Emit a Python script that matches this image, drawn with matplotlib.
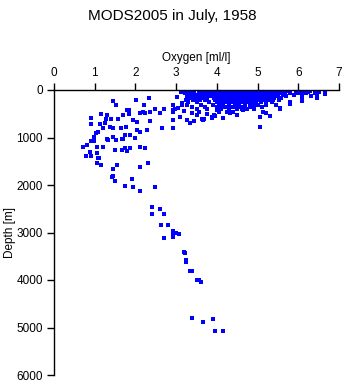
import matplotlib
matplotlib.use("Agg")
import matplotlib.pyplot as plt

plt.rcParams["font.family"] = ["Liberation Sans", "DejaVu Sans"]

# Surface layer: dense casts, one list of oxygen values [ml/l] per depth band [m]
band_depths = [15, 55, 95, 135, 175, 215, 260, 310, 360, 410]
band_oxygen = [
    [3.18, 3.28, 3.36, 3.55, 3.70, 3.80, 3.90, 4.00, 4.08, 4.16, 4.24, 4.32, 4.40, 4.48,
     4.56, 4.64, 4.72, 4.80, 4.88, 4.96, 5.04, 5.12, 5.20, 5.28, 5.36, 5.48, 5.60, 5.75,
     5.95, 6.10, 6.28, 6.50],
    [3.22, 3.32, 3.45, 3.60, 3.72, 3.84, 3.94, 4.02, 4.10, 4.18, 4.26, 4.34, 4.42, 4.50,
     4.58, 4.66, 4.74, 4.82, 4.90, 4.98, 5.06, 5.14, 5.22, 5.32, 5.42, 5.55, 5.68, 5.80,
     6.00, 6.20, 6.66],
    [3.30, 3.40, 3.52, 3.65, 3.78, 3.88, 3.98, 4.06, 4.14, 4.22, 4.30, 4.38, 4.46, 4.54,
     4.62, 4.70, 4.78, 4.86, 4.94, 5.02, 5.10, 5.18, 5.30, 5.45, 5.62, 5.90, 6.09, 6.45],
    [3.26, 3.44, 3.56, 3.70, 3.82, 3.94, 4.02, 4.10, 4.18, 4.26, 4.34, 4.42, 4.50, 4.58,
     4.66, 4.74, 4.82, 4.90, 4.98, 5.06, 5.14, 5.24, 5.36, 5.50, 5.70, 6.30],
    [3.35, 3.48, 3.62, 3.75, 3.92, 4.02, 4.10, 4.18, 4.26, 4.34, 4.42, 4.50, 4.58, 4.66,
     4.74, 4.82, 4.90, 4.98, 5.06, 5.16, 5.28, 5.40, 5.58, 6.09],
    [3.25, 3.42, 3.58, 3.70, 3.95, 4.04, 4.12, 4.20, 4.28, 4.36, 4.44, 4.52, 4.60, 4.68,
     4.76, 4.84, 4.92, 5.00, 5.12, 5.25, 5.38, 5.52, 6.09],
    [3.30, 3.50, 3.80, 4.00, 4.08, 4.16, 4.24, 4.32, 4.40, 4.48, 4.56, 4.64, 4.72, 4.80,
     4.88, 4.96, 5.08, 5.20, 5.35, 5.80],
    [3.14, 3.26, 3.60, 3.90, 4.05, 4.15, 4.30, 4.45, 4.55, 4.70, 4.82, 4.92, 5.00, 5.20,
     5.45],
    [3.40, 3.70, 4.00, 4.20, 4.40, 4.60, 4.85, 5.10],
    [3.51, 3.75, 4.10, 4.30, 4.50, 4.62, 4.75, 4.90, 5.55],
]

# Scattered samples below the surface layer: (oxygen, depth)
upper_pts = [
    (3.01, 140), (3.12, 35), (3.38, 56), (2.93, 316), (3.14, 281), (3.26, 316),
    (3.38, 491), (3.26, 631), (3.34, 688), (3.45, 660), (3.51, 526), (3.64, 617),
    (3.69, 617), (3.87, 561), (3.92, 520), (4.00, 421), (4.05, 470), (4.14, 596),
    (3.67, 631), (3.87, 596), (3.96, 547), (4.24, 456), (4.32, 491), (4.40, 470),
    (4.65, 421), (4.70, 400), (5.06, 561), (5.14, 456), (5.20, 490), (5.31, 547),
    (5.06, 772), (5.55, 386), (5.80, 295), (6.09, 224), (6.25, 35), (6.47, 175),
    (6.66, 84), (6.50, 35), (5.96, 70), (6.40, 60), (6.30, 130), (3.18, 35),
    (3.05, 380), (3.20, 450), (3.10, 560), (3.55, 470), (3.75, 500), (4.50, 520),
]

mid_pts = [
    (1.44, 225), (1.52, 322), (2.01, 210), (2.34, 175), (2.21, 322), (1.80, 421),
    (1.84, 421), (1.83, 512), (1.69, 533), (1.15, 498), (1.31, 526), (0.92, 596),
    (0.92, 716), (1.13, 716), (1.28, 617), (1.41, 617), (1.56, 617), (1.25, 702),
    (1.38, 772), (1.20, 807), (1.46, 793), (1.64, 807), (1.77, 772), (1.95, 631),
    (2.05, 666), (2.11, 491), (2.19, 456), (2.24, 491), (2.36, 470), (2.48, 407),
    (2.60, 491), (2.70, 407), (2.93, 421), (2.97, 407), (2.92, 460), (2.93, 631),
    (2.92, 793), (2.65, 807), (2.36, 645), (2.28, 842), (2.10, 877), (2.05, 842),
    (1.99, 1017), (1.87, 947), (1.74, 947), (1.70, 1038), (1.66, 1038), (1.52, 1052),
    (1.46, 982), (1.33, 1052), (1.31, 1030), (1.20, 1193), (1.06, 1193), (0.99, 982),
    (1.03, 912), (1.07, 877), (0.98, 1074), (0.90, 1067), (0.80, 1158), (0.72, 1207),
    (0.79, 1389), (0.88, 1298), (0.90, 1389), (1.05, 1333), (1.09, 1438), (1.11, 1438),
    (1.06, 1544), (1.15, 1579), (1.50, 1263), (1.66, 1263), (1.74, 1228), (1.80, 1277),
    (1.87, 1228), (2.11, 1193), (2.24, 1214), (2.11, 1614), (2.32, 1544), (1.54, 1579),
    (1.44, 1670), (1.44, 1810), (1.43, 1838), (1.51, 1915), (1.74, 2014), (1.91, 1873),
    (1.93, 2035), (2.11, 2126), (2.48, 2035), (2.49, 2050),
]

deep_pts = [
    (2.40, 2470), (2.40, 2600), (2.60, 2500), (2.70, 2620), (2.64, 2840), (2.81, 2835),
    (2.70, 3115), (2.92, 2960), (2.92, 3000), (2.92, 3100), (3.00, 3020), (3.06, 3040),
    (3.19, 3420), (3.22, 3440), (3.23, 3580), (3.23, 3630), (3.33, 3810), (3.38, 3810),
    (3.51, 4000), (3.56, 4000), (3.60, 4035), (3.38, 4790), (3.66, 4890), (3.91, 4820),
    (3.96, 5080), (4.16, 5080),
]

oxygen = []
depth = []
for d, row in zip(band_depths, band_oxygen):
    oxygen += row
    depth += [d] * len(row)
for o, d in upper_pts + mid_pts + deep_pts:
    oxygen.append(o)
    depth.append(d)

fig = plt.figure(figsize=(3.45, 3.84), dpi=100)
ax = fig.add_axes([54 / 345, 1 - 375 / 384, 285 / 345, 285 / 384])

ax.plot(oxygen, depth, "s", color="#0000ff", markersize=2.6, markeredgewidth=0)

ax.set_xlim(0, 7)
ax.set_ylim(6000, 0)
ax.set_xticks(range(0, 8))
ax.set_yticks(range(0, 7000, 1000))
ax.xaxis.tick_top()
ax.xaxis.set_label_position("top")
ax.spines["right"].set_visible(False)
ax.spines["bottom"].set_visible(False)
for s in ("left", "top"):
    ax.spines[s].set_linewidth(1.0)
    ax.spines[s].set_color("black")
ax.tick_params(axis="both", length=5, width=1.0, labelsize=8.5, pad=3)

ax.set_xlabel("Oxygen [ml/l]", fontsize=8.5, labelpad=4)
ax.set_ylabel("Depth [m]", fontsize=8.5)
ax.yaxis.set_label_coords(-0.135, 0.5)
fig.text(0.5, 1 - 16 / 384, "MODS2005 in July, 1958", ha="center", va="center",
         fontsize=11)

fig.savefig("out.png", dpi=100)
